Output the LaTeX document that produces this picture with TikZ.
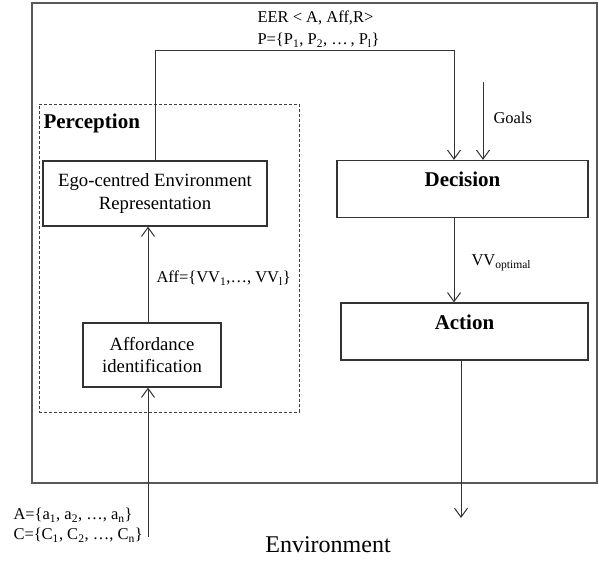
\documentclass[tikz,border=0pt]{standalone}
\usepackage{fontspec}
\setmainfont{Liberation Serif}
\usetikzlibrary{arrows.meta,calc}

\begin{document}
\begin{tikzpicture}[
    x=1pt,y=-1pt,
    draw=black!80,line width=1pt,
    %
    frame/.style={draw=black!65, line width=1.4pt, rectangle, inner sep=0pt},
    group/.style={draw=black!75, rectangle, inner sep=0pt, dash pattern=on 3pt off 2pt},
    block/.style={draw=black!80, line width=1.2pt, rectangle, inner sep=0pt, align=center,
                  font=\fontsize{18.7}{22.5}\selectfont},
    phase/.style={draw=black!80, line width=1.2pt, rectangle, inner sep=0pt, text height=26pt,
                  text depth=31pt, font=\fontsize{21}{25}\selectfont\bfseries},
    lbl/.style={anchor=west, inner sep=0pt, font=\fontsize{16.5}{20}\selectfont},
    %
    pre/.style={draw=black!80, -{Straight Barb[length=9pt,width=13pt]}}
    ]
    \useasboundingbox (0,0) rectangle (599,565);

    \node[frame, minimum width=565pt, minimum height=480pt] (agent) at (314.5,243) {};
    \node[group, minimum width=260pt, minimum height=308pt] (percep) at (169,258) {};
    \node[anchor=west, inner sep=0pt, font=\fontsize{21}{25}\selectfont\bfseries]
        (perctitle) at (43,123) {Perception};
    %
    \node[block, minimum width=224pt, minimum height=65pt] (eer) at (155,193.5)
        {Ego-centred Environment\\Representation};
    \node[block, minimum width=138pt, minimum height=64pt] (aff) at (152,355)
        {Affordance\\identification};
    \node[phase, minimum width=251pt] (dec) at (462.5,189) {Decision};
    \node[phase, minimum width=247pt] (act) at (464.5,331.5) {Action};
    %
    \coordinate (fb) at (454,50);
    \coordinate (goalsin) at (483,82);
    \coordinate (envin) at (148,537);
    \coordinate (envout) at (461,518);
    %
    \draw[pre] (eer.north) |- (fb) -- (fb |- dec.north);
    \draw[pre] (goalsin) -- (goalsin |- dec.north);
    \draw[pre] (dec.south -| fb) -- (act.north -| fb);
    \draw[pre] (act.south -| envout) -- (envout);
    \draw[pre] (envin) -- (envin |- aff.south);
    \draw[pre] (aff.north -| envin) -- (eer.south -| envin);
    %
    \node[lbl] (eerlbl) at (257,18) {EER < A, Aff,R>};
    \node[lbl] (plbl) at (257,40)
        {P=\{P\textsubscript{1}, P\textsubscript{2}, \ldots\,, P\textsubscript{l}\}};
    \node[lbl] (goalslbl) at (493,118) {Goals};
    \node[lbl] (vvlbl) at (471,263) {VV\textsubscript{optimal}};
    \node[lbl] (afflbl) at (156,278)
        {Aff=\{VV\textsubscript{1},\ldots, VV\textsubscript{l}\}};
    \node[lbl] (albl) at (13,515)
        {A=\{a\textsubscript{1}, a\textsubscript{2}, \ldots, a\textsubscript{n}\}};
    \node[lbl] (clbl) at (13,535)
        {C=\{C\textsubscript{1}, C\textsubscript{2}, \ldots, C\textsubscript{n}\}};
    \node[inner sep=0pt, font=\fontsize{24}{28}\selectfont] (env) at (328,545) {Environment};
    %
\end{tikzpicture}
\end{document}
